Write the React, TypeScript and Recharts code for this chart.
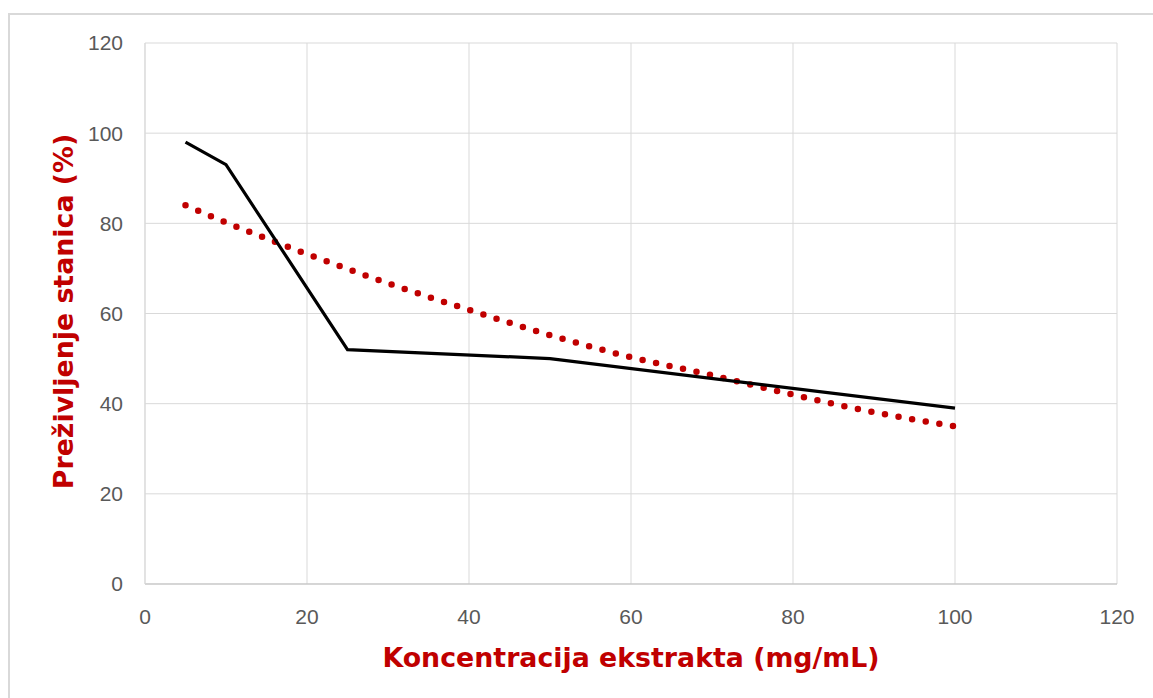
import { LineChart, Line, XAxis, YAxis, CartesianGrid, Label } from 'recharts';

const concentrations = [5, 10, 25, 50, 100];
const survival = [98, 93, 52, 50, 39];

const trendConcentrations = [5, 10, 20, 30, 40, 50, 60, 70, 80, 90, 100];
const trendSurvival = [84, 80.2, 73.2, 66.7, 60.8, 55.2, 50.3, 46.3, 42, 38.1, 35];

const xTicks = [0, 20, 40, 60, 80, 100, 120];
const yTicks = [0, 20, 40, 60, 80, 100, 120];

const measured = concentrations.map((x, i) => ({ x, y: survival[i] }));
const trend = trendConcentrations.map((x, i) => ({ x, y: trendSurvival[i] }));

const titleStyle = {
  fontFamily: '"DejaVu Sans", Verdana, sans-serif',
  fontWeight: 700,
  fontSize: 26.8,
  fill: '#c00000',
};

const tickStyle = { fill: '#595959', fontSize: 21, fontFamily: '"Liberation Sans", Arial, sans-serif' };

export default function App() {
  return (
    <div style={{ position: 'absolute', left: 0, top: 0, width: 1153, height: 698, background: '#fff', overflow: 'hidden' }}>
      <div
        style={{
          position: 'absolute',
          left: 8,
          top: 13,
          width: 1200,
          height: 800,
          borderTop: '2px solid #d9d9d9',
          borderLeft: '2px solid #d9d9d9',
        }}
      />
      <div style={{ position: 'absolute', left: 0, top: 0 }}>
        <LineChart width={1153} height={698} margin={{ top: 43, right: 36, bottom: 0, left: 0 }}>
          <CartesianGrid stroke="#d9d9d9" strokeWidth={1} />
          <XAxis
            dataKey="x"
            type="number"
            domain={[0, 120]}
            ticks={xTicks}
            height={114}
            axisLine={{ stroke: '#bfbfbf', strokeWidth: 1 }}
            tickLine={false}
            tickMargin={19}
            tick={tickStyle}
            allowDuplicatedCategory={false}
          >
            <Label
              content={({ viewBox }: any) => (
                <text
                  x={viewBox.x + viewBox.width / 2}
                  y={667}
                  textAnchor="middle"
                  style={titleStyle}
                >
                  Koncentracija ekstrakta (mg/mL)
                </text>
              )}
            />
          </XAxis>
          <YAxis
            dataKey="y"
            type="number"
            domain={[0, 120]}
            ticks={yTicks}
            width={145}
            axisLine={{ stroke: '#d9d9d9', strokeWidth: 1 }}
            tickLine={false}
            tickMargin={16}
            tick={tickStyle}
          >
            <Label
              content={({ viewBox }: any) => {
                const cy = viewBox.y + viewBox.height / 2 - 2;
                return (
                  <text
                    x={73}
                    y={cy}
                    textAnchor="middle"
                    transform={`rotate(-90 73 ${cy})`}
                    style={titleStyle}
                  >
                    Preživljenje stanica (%)
                  </text>
                );
              }}
            />
          </YAxis>
          <Line
            data={trend}
            dataKey="y"
            type="monotone"
            stroke="#c00000"
            strokeWidth={6.5}
            strokeLinecap="round"
            strokeDasharray="0 13.8"
            dot={false}
            activeDot={false}
            isAnimationActive={false}
          />
          <Line
            data={measured}
            dataKey="y"
            type="linear"
            stroke="#000000"
            strokeWidth={3.2}
            dot={false}
            activeDot={false}
            isAnimationActive={false}
          />
        </LineChart>
      </div>
    </div>
  );
}
